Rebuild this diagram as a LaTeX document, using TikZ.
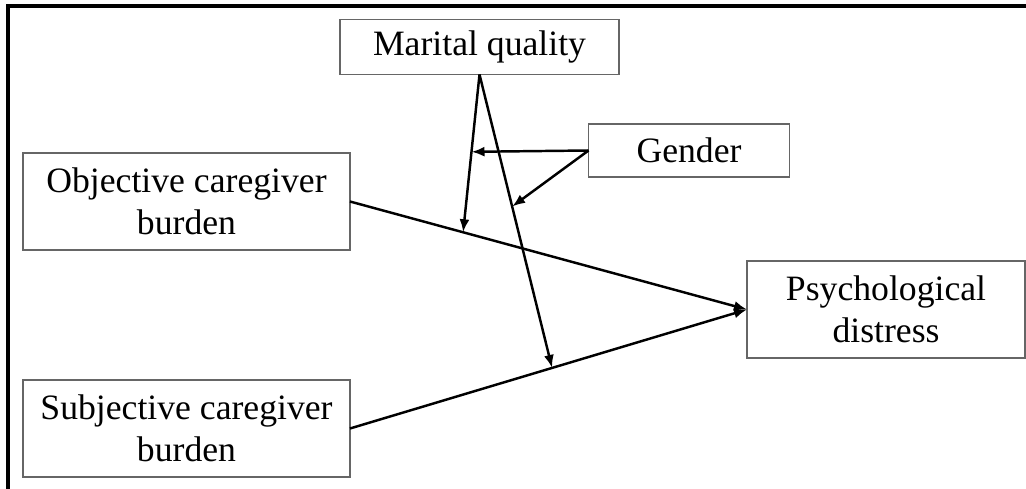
\documentclass[tikz,border=0pt]{standalone}
\usepackage{fontspec}
\setmainfont{Liberation Serif}
\usetikzlibrary{arrows.meta}

\begin{document}
\begin{tikzpicture}[x=0.02cm,y=-0.02cm]
		\tikzstyle{every node}+=[inner sep=0pt,outer sep=0pt,font=\fontsize{20.3}{24}\selectfont,align=center]
		\tikzstyle{box}=[draw=black!60,line width=0.9pt]
		\tikzstyle{link}=[black,line width=1.4pt,-{Latex[length=2.6mm,width=2mm]}]
		\useasboundingbox (0,0) rectangle (1026,489);
		\draw [black,line width=2.2pt] (8,489) -- (8,6) -- (1026,6);
		\node [box,minimum width=5.58cm,minimum height=1.1cm] (mar) at (479.5,47) {Marital quality};
		\node [box,minimum width=4.02cm,minimum height=1.06cm] (gen) at (689,150.5) {Gender};
		\node [box,minimum width=6.54cm,minimum height=1.94cm] (obj) at (186.5,201.5) {Objective caregiver\\burden};
		\node [box,minimum width=6.54cm,minimum height=1.94cm] (sub) at (186.5,428.5) {Subjective caregiver\\burden};
		\node [box,minimum width=5.56cm,minimum height=1.94cm] (psy) at (886,309.5) {Psychological\\distress};
		\draw [link] (obj.east) -- (psy.west) coordinate [pos=0.285] (ob);
		\draw [link] (sub.east) -- (psy.west) coordinate [pos=0.509] (sb);
		\draw [link] (mar.south) -- (ob) coordinate [pos=0.49] (m1);
		\draw [link] (mar.south) -- (sb) coordinate [pos=0.45] (m2);
		\draw [link] (gen.west) -- (m1);
		\draw [link] (gen.west) -- (m2);
	\end{tikzpicture}
\end{document}
